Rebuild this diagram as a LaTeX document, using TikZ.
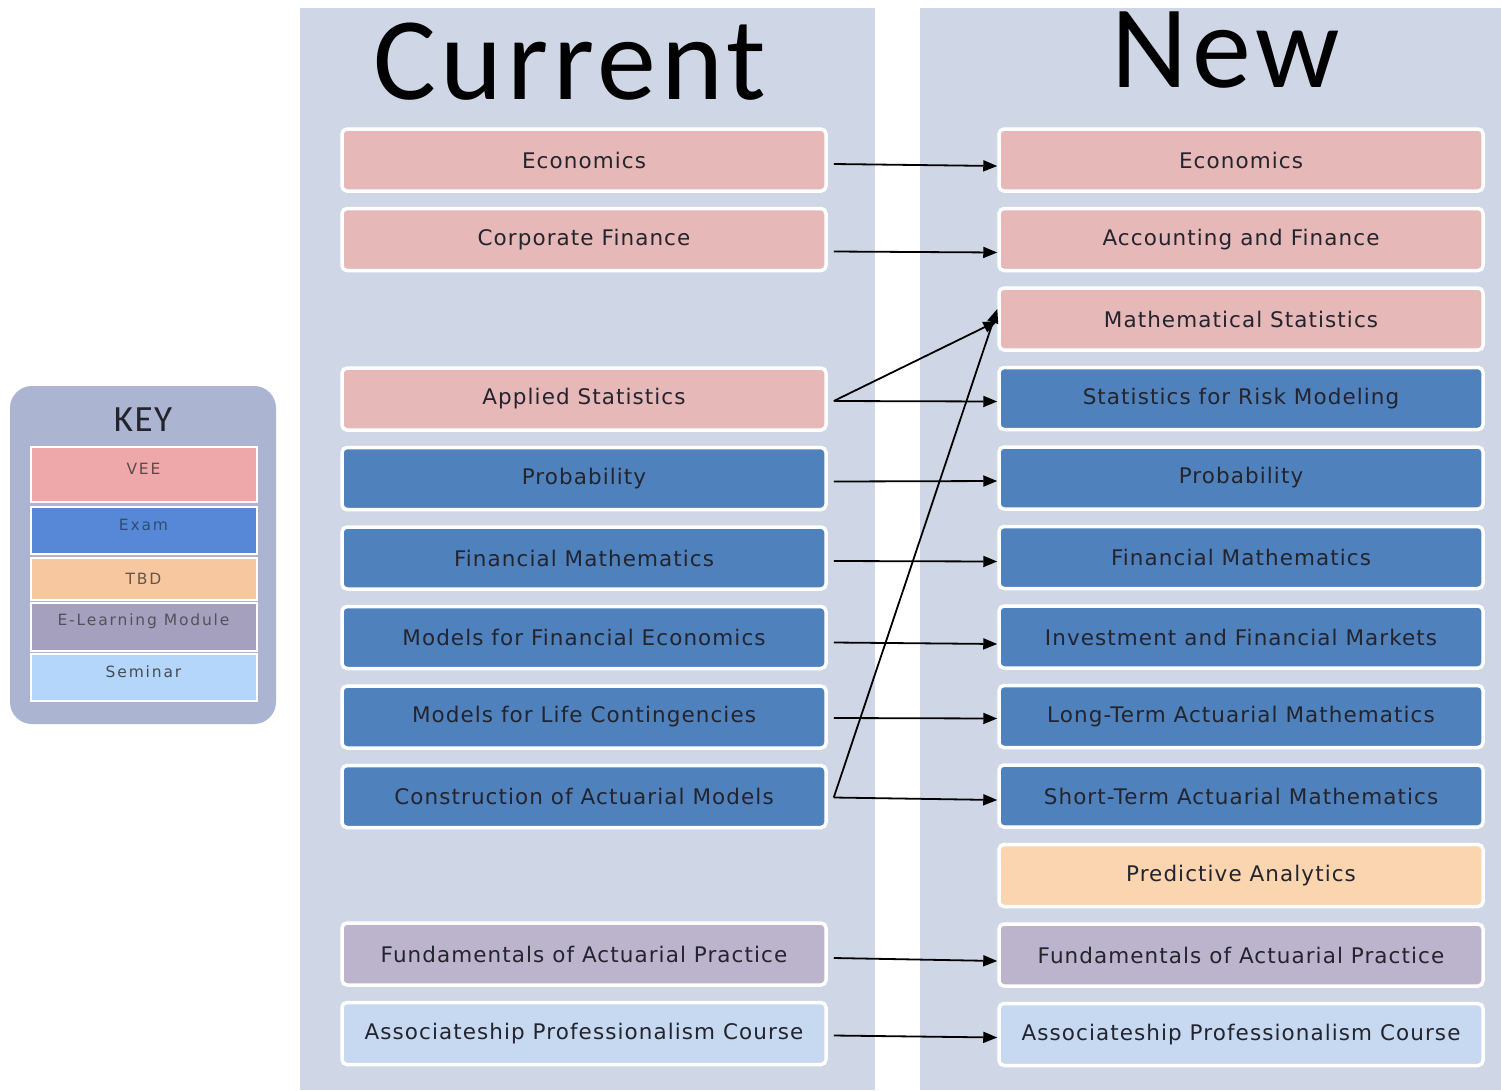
\documentclass[tikz,border=0pt]{standalone}
\usepackage{fontspec}
\setmainfont{Carlito}
\newfontfamily\boxfont{DejaVu Sans}[LetterSpace=5]
\newfontfamily\keyfont{DejaVu Sans}[LetterSpace=12]
\newfontfamily\titlefont{Carlito}[LetterSpace=4]
\usetikzlibrary{arrows.meta, positioning}
\definecolor{panelbg}{HTML}{CFD7E6}
\definecolor{keybg}{HTML}{ABB5D2}
\definecolor{ink}{HTML}{24242E}
\definecolor{vee}{HTML}{E6B8B7}
\definecolor{exam}{HTML}{4F81BD}
\definecolor{tbd}{HTML}{FAD5B0}
\definecolor{elearn}{HTML}{BCB4CC}
\definecolor{seminar}{HTML}{C6D9F0}
\definecolor{keyvee}{HTML}{EEA8AA}
\definecolor{keyexam}{HTML}{5688D7}
\definecolor{keytbd}{HTML}{F7C8A0}
\definecolor{keyelearn}{HTML}{A5A0BE}
\definecolor{keysem}{HTML}{B4D6FA}
\tikzset{
  course/.style  ={draw=white, line width=3.5pt, rounded corners=5pt,
                   minimum width=484pt, minimum height=62pt, inner sep=0pt,
                   font=\boxfont\fontsize{21.5}{24}\selectfont, text=ink},
  cvee/.style    ={course, fill=vee},
  cexam/.style   ={course, fill=exam},
  ctbd/.style    ={course, fill=tbd},
  celearn/.style ={course, fill=elearn},
  csem/.style    ={course, fill=seminar},
  keyitem/.style ={draw=white, line width=2pt, minimum width=226pt,
                   inner sep=0pt},
  keytext/.style ={font=\keyfont\fontsize{15.5}{17}\selectfont, yshift=6pt},
  title/.style   ={font=\titlefont\fontsize{118}{120}\selectfont, text=black},
  move/.style    ={-{Triangle[length=14pt,width=11pt]}, line width=1.8pt, draw=black}
}

\begin{document}
\begin{tikzpicture}[x=1pt, y=-1pt, node distance=14pt]
  \useasboundingbox[fill=white] (0,0) rectangle (1501,1090);

  % column panels
  \fill[panelbg] (300,8) rectangle (875,1090);
  \fill[panelbg] (920,8) rectangle (1501,1090);

  \node[title] (tcur) at (570,62) {Current};
  \node[title] (tnew) at (1226,50) {New};

  % key
  \fill[keybg, rounded corners=22pt] (10,386) rectangle (276,724);
  \node[font=\titlefont\fontsize{37}{38}\selectfont, text=ink] (key) at (143,420) {KEY};
  \node[keyitem, fill=keyvee,    minimum height=55pt] (kvee) at (143.5,474.5) {};
  \node[keyitem, fill=keyexam,   minimum height=47pt] (kexam) at (143.5,530.5) {};
  \node[keyitem, fill=keytbd,    minimum height=42pt] (ktbd) at (143.5,579) {};
  \node[keyitem, fill=keyelearn, minimum height=48pt] (kelearn) at (143.5,627) {};
  \node[keyitem, fill=keysem,    minimum height=47pt] (ksem) at (143.5,677.5) {};
  \node[keytext, text=vee!40!black]     at (kvee)    {VEE};
  \node[keytext, text=exam!60!black]    at (kexam)   {Exam};
  \node[keytext, yshift=-6pt, text=tbd!40!black] at (ktbd) {TBD};
  \node[keytext, text=elearn!45!black]  at (kelearn) {E-Learning Module};
  \node[keytext, text=seminar!35!black] at (ksem)    {Seminar};

  % current courses
  \node[cvee] (cEcon) at (584,160) {Economics};
  \node[cvee, below=of cEcon] (cCorp) {Corporate Finance};
  \node[cvee] (cAppStat) at (584,399) {Applied Statistics};
  \node[cexam, below=of cAppStat] (cProb) {Probability};
  \node[cexam, below=of cProb] (cFM)  {Financial Mathematics};
  \node[cexam, below=of cFM]   (cMFE) {Models for Financial Economics};
  \node[cexam, below=of cMFE]  (cMLC) {Models for Life Contingencies};
  \node[cexam, below=of cMLC]  (cCAM) {Construction of Actuarial Models};
  \node[celearn] (cFAP) at (584,954) {Fundamentals of Actuarial Practice};
  \node[csem, below=of cFAP]   (cAPC) {Associateship Professionalism Course};

  % new courses
  \node[cvee] (nEcon) at (1241,160) {Economics};
  \node[cvee, below=of nEcon]  (nAcct) {Accounting and Finance};
  \node[cvee, below=of nAcct]  (nMS)   {Mathematical Statistics};
  \node[cexam, below=of nMS]   (nSRM)  {Statistics for Risk Modeling};
  \node[cexam, below=of nSRM]  (nProb) {Probability};
  \node[cexam, below=of nProb] (nFM)   {Financial Mathematics};
  \node[cexam, below=of nFM]   (nIFM)  {Investment and Financial Markets};
  \node[cexam, below=of nIFM]  (nLTAM) {Long-Term Actuarial Mathematics};
  \node[cexam, below=of nLTAM] (nSTAM) {Short-Term Actuarial Mathematics};
  \node[ctbd, below=of nSTAM]  (nPA)   {Predictive Analytics};
  \node[celearn, below=of nPA] (nFAP)  {Fundamentals of Actuarial Practice};
  \node[csem, below=of nFAP]   (nAPC)  {Associateship Professionalism Course};

  % transitions
  \draw[move] ([xshift=6pt,yshift=-4pt]cEcon.east)    -- ([yshift=-6pt]nEcon.west);
  \draw[move] ([xshift=6pt,yshift=-12pt]cCorp.east)   -- ([yshift=-13pt]nAcct.west);
  \draw[move] ([xshift=6pt,yshift=-2pt]cAppStat.east) -- ([yshift=-2pt]nMS.west);
  \draw[move] ([xshift=6pt,yshift=-2pt]cAppStat.east) -- ([yshift=-3pt]nSRM.west);
  \draw[move] ([xshift=6pt,yshift=-3pt]cProb.east)    -- ([yshift=-3pt]nProb.west);
  \draw[move] ([xshift=6pt,yshift=-3pt]cFM.east)      -- ([yshift=-4pt]nFM.west);
  \draw[move] ([xshift=6pt,yshift=-5pt]cMFE.east)     -- ([yshift=-7pt]nIFM.west);
  \draw[move] ([xshift=6pt,yshift=-1pt]cMLC.east)     -- ([yshift=-2pt]nLTAM.west);
  \draw[move] ([xshift=6pt,yshift=-1pt]cCAM.east)     -- ([yshift=10pt]nMS.west);
  \draw[move] ([xshift=6pt,yshift=-1pt]cCAM.east)     -- ([yshift=-4pt]nSTAM.west);
  \draw[move] ([xshift=6pt,yshift=-4pt]cFAP.east)     -- ([yshift=-6pt]nFAP.west);
  \draw[move] ([xshift=6pt,yshift=-2pt]cAPC.east)     -- ([yshift=-3pt]nAPC.west);
\end{tikzpicture}
\end{document}
